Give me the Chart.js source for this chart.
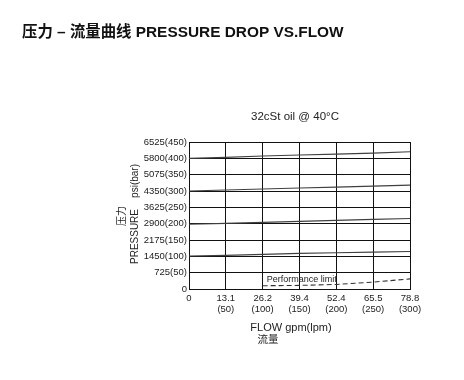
<!DOCTYPE html>
<html>
<head>
<meta charset="utf-8">
<script src="https://cdn.jsdelivr.net/npm/chart.js@4"></script>
<style>
  html, body { margin: 0; padding: 0; background: #fff; }
  #wrap { width: 464px; height: 380px; position: relative; }
</style>
</head>
<body>
<div id="wrap"><canvas id="c" width="464" height="380"></canvas></div>
<script>
// ---- data ----
const flowLpm = [0, 50, 100, 150, 200, 250, 300];
const curve400 = [400, 403, 407, 410, 413, 416, 420];
const curve300 = [300, 303, 306, 309, 312, 315, 318];
const curve200 = [198, 201, 204, 207, 210, 213, 216];
const curve100 = [101, 103, 106, 109, 111, 113, 115];
const limitFlow = [100, 150, 200, 250, 300];
const limitValues = [10, 11, 14, 21, 31];

const yTickLabels = ['0', '725(50)', '1450(100)', '2175(150)', '2900(200)', '3625(250)', '4350(300)', '5075(350)', '5800(400)', '6525(450)'];
const xTickLabels = [['0'], ['13.1', '(50)'], ['26.2', '(100)'], ['39.4', '(150)'], ['52.4', '(200)'], ['65.5', '(250)'], ['78.8', '(300)']];

const chartTitle = '压力 – 流量曲线 PRESSURE DROP VS.FLOW';
const subTitle = '32cSt oil @ 40°C';
const yTitle = 'PRESSURE    psi(bar)';
const yTitleCn = '压力';
const xTitle = 'FLOW gpm(lpm)';
const xTitleCn = '流量';
const limitLabel = 'Performance limit';

const FONT = "'Liberation Sans', Arial, 'Noto Sans CJK SC', sans-serif";

function pts(xs, ys) { return xs.map((x, i) => ({ x: x, y: ys[i] })); }

const lineStyle = { borderColor: '#404040', borderWidth: 1.1, pointRadius: 0, tension: 0, fill: false };

const textPlugin = {
  id: 'texts',
  afterDraw(chart) {
    const ctx = chart.ctx;
    const xs = chart.scales.x, ys = chart.scales.y;
    ctx.save();
    ctx.fillStyle = '#111';
    // main title
    ctx.font = 'bold 15.4px ' + FONT;
    ctx.textAlign = 'left';
    ctx.textBaseline = 'alphabetic';
    ctx.fillText(chartTitle, 22, 37);
    // subtitle
    ctx.fillStyle = '#222';
    ctx.font = '11.5px ' + FONT;
    ctx.textAlign = 'center';
    ctx.fillText(subTitle, 295, 120);
    // x titles
    ctx.font = '11px ' + FONT;
    ctx.fillText(xTitle, 291, 331);
    ctx.font = '10.5px ' + FONT;
    ctx.textBaseline = 'middle';
    ctx.fillText(xTitleCn, 268, 340);
    // y titles rotated
    ctx.font = '10px ' + FONT;
    ctx.save();
    ctx.translate(135, 214);
    ctx.rotate(-Math.PI / 2);
    ctx.textAlign = 'center';
    ctx.textBaseline = 'middle';
    ctx.fillText(yTitle, 0, 0);
    ctx.restore();
    ctx.save();
    ctx.translate(122, 216);
    ctx.rotate(-Math.PI / 2);
    ctx.textAlign = 'center';
    ctx.textBaseline = 'middle';
    ctx.font = '10px ' + FONT;
    ctx.fillText(yTitleCn, 0, 0);
    ctx.restore();
    // performance limit label
    ctx.font = '9px ' + FONT;
    ctx.textAlign = 'left';
    ctx.textBaseline = 'alphabetic';
    ctx.fillStyle = '#222';
    ctx.fillText(limitLabel, xs.getPixelForValue(limitFlow[0]) + 4, ys.getPixelForValue(20));
    ctx.restore();
  }
};

new Chart(document.getElementById('c'), {
  type: 'line',
  data: {
    datasets: [
      Object.assign({ label: '400', data: pts(flowLpm, curve400) }, lineStyle),
      Object.assign({ label: '300', data: pts(flowLpm, curve300) }, lineStyle),
      Object.assign({ label: '200', data: pts(flowLpm, curve200) }, lineStyle),
      Object.assign({ label: '100', data: pts(flowLpm, curve100) }, lineStyle),
      Object.assign({ label: limitLabel, data: pts(limitFlow, limitValues) }, lineStyle, { borderDash: [5, 3], borderColor: '#333' })
    ]
  },
  options: {
    responsive: false,
    devicePixelRatio: 1,
    animation: false,
    layout: { padding: { left: 0, top: 142, right: 54, bottom: 51 } },
    plugins: { legend: { display: false }, tooltip: { enabled: false }, title: { display: false } },
    scales: {
      x: {
        type: 'linear', min: 0, max: 300,
        border: { color: '#111', width: 1 },
        grid: { color: '#111', lineWidth: 1, drawTicks: false },
        ticks: {
          stepSize: 50, padding: 4, color: '#222', maxRotation: 0, autoSkip: false,
          font: { family: FONT, size: 9.5, lineHeight: 1.15 },
          callback: (v, i) => xTickLabels[i]
        },
        afterFit: (s) => { s.height = 40; }
      },
      y: {
        type: 'linear', min: 0, max: 450,
        border: { color: '#111', width: 1 },
        grid: { color: '#111', lineWidth: 1, drawTicks: false },
        ticks: {
          stepSize: 50, padding: 2, color: '#222', autoSkip: false,
          font: { family: FONT, size: 9.5 },
          callback: (v, i) => yTickLabels[i]
        },
        afterFit: (s) => { s.width = 189; }
      }
    }
  },
  plugins: [textPlugin]
});
</script>
</body>
</html>
